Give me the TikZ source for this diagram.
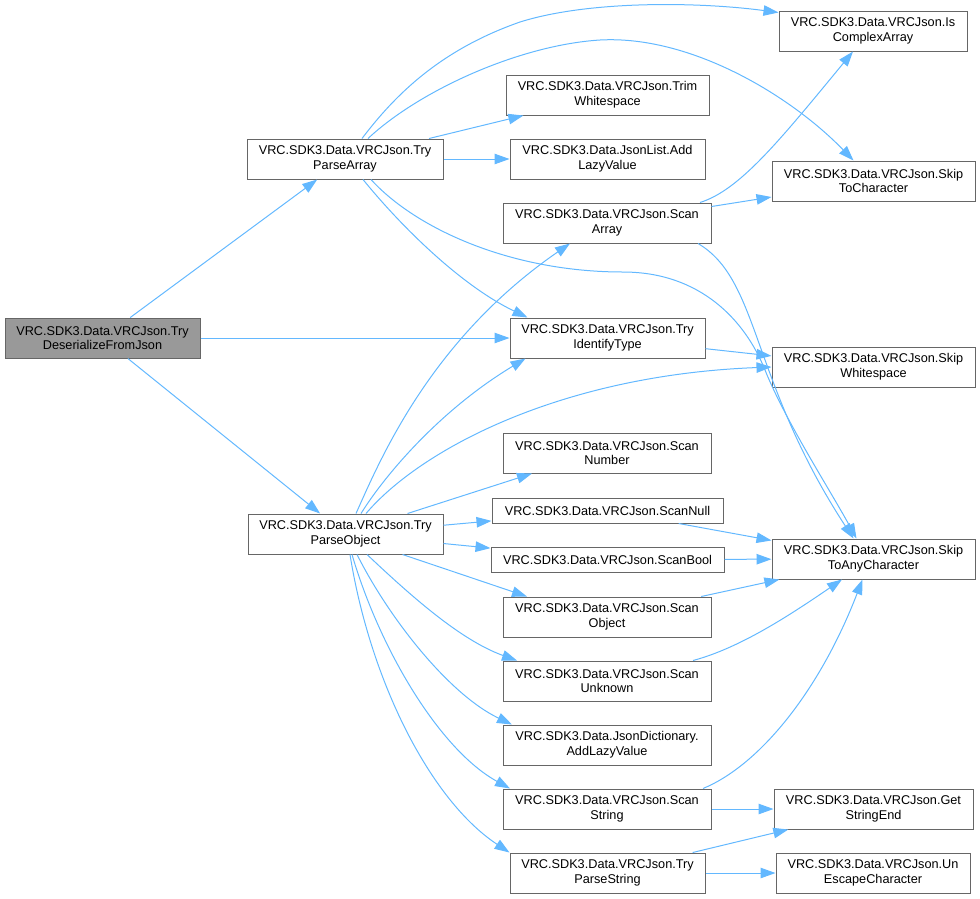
\documentclass[tikz,border=0pt]{standalone}
\usepackage{fontspec}
\setmainfont{Liberation Sans}
\usetikzlibrary{arrows.meta}

\definecolor{edgeblue}{HTML}{63B8FF}
\definecolor{boxgray}{HTML}{666666}
\definecolor{rootgray}{HTML}{999999}

\begin{document}
\begin{tikzpicture}[x=1pt, y=-1pt,
    fn/.style={draw=boxgray, line width=1pt, fill=white, align=center, inner sep=0pt,
        minimum height=40pt, font=\fontsize{12.7}{14.7}\selectfont},
    call/.style={draw=edgeblue, line width=1pt, -{Triangle[length=15pt,width=10.5pt]}}]
            \useasboundingbox (0, 0) rectangle (980, 898);

            \node[fn, fill=rootgray, minimum width=195pt] (tdj) at (102.5, 338) {VRC.SDK3.Data.VRCJson.Try\\DeserializeFromJson};

            \node[fn, minimum width=196pt] (tpa) at (345, 159) {VRC.SDK3.Data.VRCJson.Try\\ParseArray};
            \node[fn, minimum width=195pt] (tpo) at (345.5, 534) {VRC.SDK3.Data.VRCJson.Try\\ParseObject};

            \node[fn, minimum width=203pt] (tws) at (607.5, 95) {VRC.SDK3.Data.VRCJson.Trim\\Whitespace};
            \node[fn, minimum width=195pt] (jla) at (607.5, 159) {VRC.SDK3.Data.JsonList.Add\\LazyValue};
            \node[fn, minimum width=208pt] (sca) at (607, 223) {VRC.SDK3.Data.VRCJson.Scan\\Array};
            \node[fn, minimum width=195pt] (tit) at (607.5, 338) {VRC.SDK3.Data.VRCJson.Try\\IdentifyType};
            \node[fn, minimum width=208pt] (scn) at (607, 453) {VRC.SDK3.Data.VRCJson.Scan\\Number};
            \node[fn, minimum width=231pt, minimum height=25pt] (snl) at (607.5, 510.5) {VRC.SDK3.Data.VRCJson.ScanNull};
            \node[fn, minimum width=233pt, minimum height=25pt] (sbo) at (607.5, 559.5) {VRC.SDK3.Data.VRCJson.ScanBool};
            \node[fn, minimum width=208pt] (sco) at (607, 617) {VRC.SDK3.Data.VRCJson.Scan\\Object};
            \node[fn, minimum width=208pt] (scu) at (607, 681) {VRC.SDK3.Data.VRCJson.Scan\\Unknown};
            \node[fn, minimum width=208pt] (jda) at (607, 745) {VRC.SDK3.Data.JsonDictionary.\\AddLazyValue};
            \node[fn, minimum width=208pt] (scs) at (607, 809) {VRC.SDK3.Data.VRCJson.Scan\\String};
            \node[fn, minimum width=195pt] (tps) at (607.5, 873) {VRC.SDK3.Data.VRCJson.Try\\ParseString};

            \node[fn, minimum width=188pt] (ica) at (873, 31) {VRC.SDK3.Data.VRCJson.Is\\ComplexArray};
            \node[fn, minimum width=203pt] (sktc) at (873.5, 181) {VRC.SDK3.Data.VRCJson.Skip\\ToCharacter};
            \node[fn, minimum width=203pt] (skw) at (873.5, 367) {VRC.SDK3.Data.VRCJson.Skip\\Whitespace};
            \node[fn, minimum width=203pt] (stac) at (873.5, 559) {VRC.SDK3.Data.VRCJson.Skip\\ToAnyCharacter};
            \node[fn, minimum width=199pt] (gse) at (873.5, 809) {VRC.SDK3.Data.VRCJson.Get\\StringEnd};
            \node[fn, minimum width=194pt] (uec) at (873, 873) {VRC.SDK3.Data.VRCJson.Un\\EscapeCharacter};

            % calls of the root
            \draw[call] (tdj) to (tpa);
            \draw[call] (tdj) to (tit);
            \draw[call] (tdj) to (tpo);

            % calls of TryParseArray
            \draw[call] ([xshift=17pt]tpa.north) .. controls (395, 95) and (440, 50) .. (520, 22)
                .. controls (590, 0) and (700, 2) .. ([yshift=-2pt]ica.north west);
            \draw[call] ([xshift=23pt]tpa.north) .. controls (420, 90) and (520, 45) .. (600, 40)
                .. controls (690, 35) and (790, 95) .. ([xshift=-20pt]sktc.north);
            \draw[call] (tpa) to (tws);
            \draw[call] (tpa) to (jla);
            \draw[call] ([xshift=18pt]tpa.south) .. controls (400, 225) and (460, 285) .. ([xshift=-80pt]tit.north);
            \draw[call] ([xshift=26pt]tpa.south) .. controls (415, 228) and (510, 272) .. (623, 272)
                .. controls (700, 272) and (745, 320) .. (765, 370)
                .. controls (785, 420) and (830, 490) .. ([xshift=-17pt]stac.north);

            % calls of ScanArray and TryIdentifyType
            \draw[call] ([xshift=93pt]sca.north) .. controls (740, 190) and (780, 140) .. ([xshift=-20pt]ica.south);
            \draw[call] (sca) to (sktc);
            \draw[call] ([xshift=91pt]sca.south) .. controls (760, 280) and (750, 380) .. ([xshift=-20pt]stac.north);
            \draw[call] (tit) to (skw);

            % calls of TryParseObject
            \draw[call] ([xshift=10.5pt]tpo.north) .. controls (380, 460) and (430, 340) .. ([xshift=-37pt]sca.south);
            \draw[call] ([xshift=15.5pt]tpo.north) .. controls (385, 475) and (440, 410) .. ([xshift=-82pt]tit.south);
            \draw[call] ([xshift=20.5pt]tpo.north) .. controls (420, 450) and (560, 375) .. (skw.west);
            \draw[call] ([xshift=62pt]tpo.north) to ([xshift=-75pt]scn.south);
            \draw[call] (tpo) to (snl);
            \draw[call] (tpo) to (sbo);
            \draw[call] ([xshift=57pt]tpo.south) to ([xshift=-80pt]sco.north);
            \draw[call] ([xshift=21.5pt]tpo.south) .. controls (410, 595) and (460, 640) .. ([xshift=-90pt]scu.north);
            \draw[call] ([xshift=11.5pt]tpo.south) .. controls (390, 620) and (450, 695) .. ([xshift=-95pt]jda.north);
            \draw[call] ([xshift=6.5pt]tpo.south) .. controls (380, 650) and (440, 750) .. ([xshift=-97pt]scs.north);
            \draw[call] ([xshift=4.5pt]tpo.south) .. controls (370, 680) and (430, 800) .. (tps.north west);

            % into SkipToAnyCharacter
            \draw[call] (snl) to (stac);
            \draw[call] (sbo) to (stac);
            \draw[call] (sco) to (stac);
            \draw[call] ([xshift=86pt]scu.north) .. controls (740, 648) and (790, 615) .. ([xshift=-31.5pt]stac.south);
            \draw[call] ([xshift=96pt]scs.north) .. controls (760, 765) and (820, 690) .. ([xshift=-11pt]stac.south);

            % string helpers
            \draw[call] (scs) to (gse);
            \draw[call] (tps) to (gse);
            \draw[call] (tps) to (uec);
        \end{tikzpicture}
\end{document}
